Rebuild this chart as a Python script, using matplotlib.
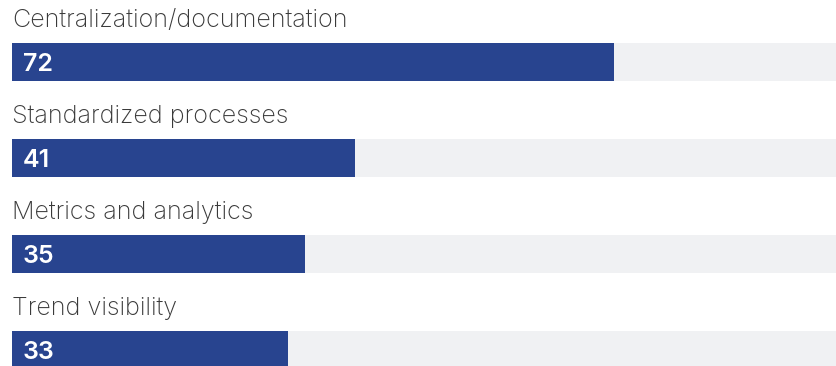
import matplotlib
matplotlib.use("Agg")
import matplotlib.pyplot as plt

categories = [
    "Centralization/documentation",
    "Standardized processes",
    "Metrics and analytics",
    "Trend visibility",
]
values = [72, 41, 35, 33]
track_max = 100

BAR_COLOR = "#28448f"
TRACK_COLOR = "#f0f1f3"
LABEL_COLOR = "#3a3a3a"
FONT = "Inter"

W, H = 837, 366
fig = plt.figure(figsize=(W / 100, H / 100), dpi=100)
ax = fig.add_axes([0, 0, 1, 1])

# 1 value unit = 8.36 px, bars start 12 px from the left edge
px_per_unit = 8.36
ax.set_xlim(-12 / px_per_unit, (W - 12) / px_per_unit)
# one row = 96 px, first bar centred at 62 px
row = 96
ax.set_ylim((H - 62) / row, -62 / row)
ax.axis("off")

bar_h = 38 / row
ypos = list(range(len(categories)))

ax.barh(ypos, [track_max] * len(ypos), height=bar_h, color=TRACK_COLOR, left=0)
ax.barh(ypos, values, height=bar_h, color=BAR_COLOR, left=0)

for y, cat, v in zip(ypos, categories, values):
    ax.text(0, y - 35 / row, cat, ha="left", va="baseline", fontsize=18.1,
            fontweight="light", color=LABEL_COLOR, family=FONT)
    ax.text(11 / px_per_unit, y + 9 / row, str(v), ha="left", va="baseline",
            fontsize=18, fontweight="semibold", color="white", family=FONT)

fig.savefig("out.png", dpi=100)
